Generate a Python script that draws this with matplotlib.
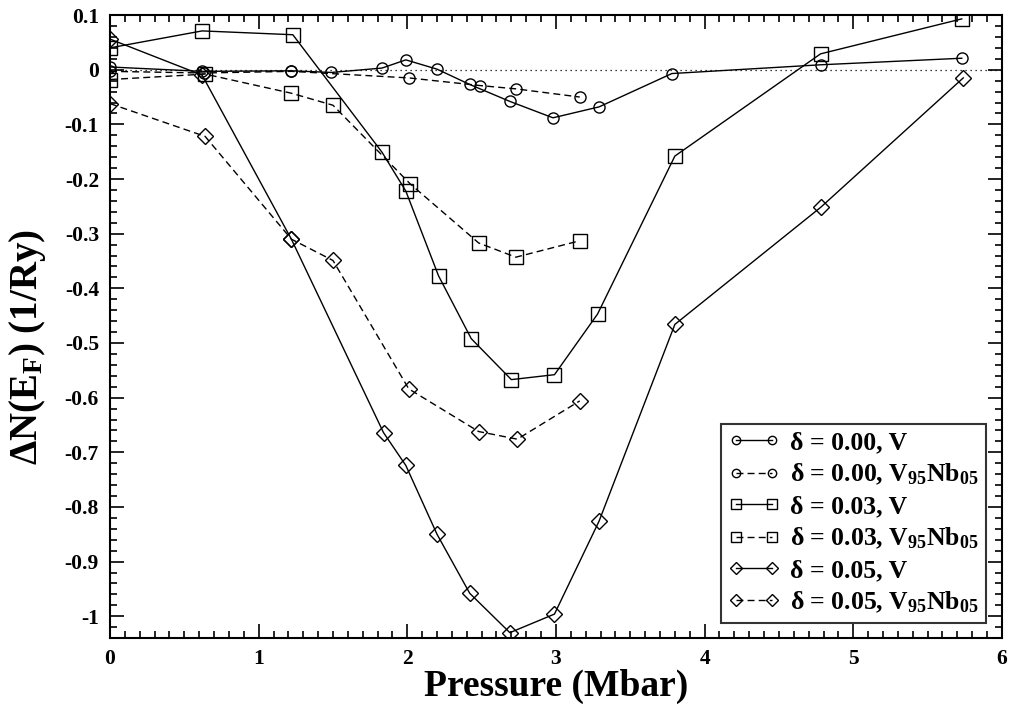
import matplotlib
matplotlib.use("Agg")
import matplotlib.pyplot as plt
from matplotlib.ticker import MultipleLocator, FixedLocator

plt.rcParams['font.family'] = ['Liberation Serif', 'DejaVu Serif']
plt.rcParams['font.weight'] = 'bold'
plt.rcParams['mathtext.fontset'] = 'custom'
plt.rcParams['mathtext.rm'] = 'Liberation Serif:bold'
plt.rcParams['mathtext.it'] = 'Liberation Serif:bold'
plt.rcParams['mathtext.bf'] = 'Liberation Serif:bold'

# delta = 0.00, V
p_c_v = [0.0, 0.62, 1.22, 1.49, 1.83, 1.99, 2.2, 2.42, 2.69, 2.98, 3.29, 3.78, 4.78, 5.73]
n_c_v = [0.005, -0.003, -0.002, -0.005, 0.003, 0.018, 0.001, -0.027, -0.058, -0.088, -0.068, -0.007, 0.009, 0.021]
# delta = 0.00, V95Nb05
p_c_nb = [0.0, 0.63, 1.22, 2.01, 2.49, 2.73, 3.16]
n_c_nb = [-0.003, -0.006, -0.003, -0.015, -0.029, -0.035, -0.05]
# delta = 0.03, V
p_s_v = [0.0, 0.62, 1.23, 1.83, 1.99, 2.21, 2.43, 2.7, 2.99, 3.28, 3.8, 4.78, 5.73]
n_s_v = [0.04, 0.071, 0.064, -0.151, -0.222, -0.377, -0.492, -0.567, -0.558, -0.447, -0.158, 0.029, 0.093]
# delta = 0.03, V95Nb05
p_s_nb = [0.0, 0.64, 1.22, 1.5, 2.02, 2.48, 2.73, 3.16]
n_s_nb = [-0.018, -0.008, -0.043, -0.065, -0.209, -0.317, -0.343, -0.313]
# delta = 0.05, V
p_d_v = [0.0, 0.62, 1.22, 1.84, 1.99, 2.2, 2.42, 2.69, 2.99, 3.29, 3.8, 4.78, 5.74]
n_d_v = [0.056, -0.01, -0.31, -0.664, -0.724, -0.85, -0.958, -1.03, -0.996, -0.826, -0.466, -0.252, -0.015]
# delta = 0.05, V95Nb05
p_d_nb = [0.0, 0.64, 1.22, 1.5, 2.01, 2.48, 2.74, 3.16]
n_d_nb = [-0.062, -0.122, -0.31, -0.349, -0.584, -0.662, -0.676, -0.606]

labels = [
    'δ = 0.00, V',
    'δ = 0.00, V$_{95}$Nb$_{05}$',
    'δ = 0.03, V',
    'δ = 0.03, V$_{95}$Nb$_{05}$',
    'δ = 0.05, V',
    'δ = 0.05, V$_{95}$Nb$_{05}$',
]

fig = plt.figure(figsize=(10.11, 7.17), dpi=100)
ax = fig.add_axes([0.1088, 0.110, 0.8822, 0.869])

# zero reference line
ax.axhline(0, color='black', lw=0.9, ls=(0, (1, 3)))

dash = (0, (5, 3))
kw = dict(color='black', mfc='none', mec='black', mew=1.0, lw=1.0)
ax.plot(p_c_v, n_c_v, marker='o', ms=8, ls='-', label=labels[0], **kw)
ax.plot(p_c_nb, n_c_nb, marker='o', ms=8, ls=dash, label=labels[1], **kw)
ax.plot(p_s_v, n_s_v, marker='s', ms=10, ls='-', label=labels[2], **kw)
ax.plot(p_s_nb, n_s_nb, marker='s', ms=10, ls=dash, label=labels[3], **kw)
ax.plot(p_d_v, n_d_v, marker='D', ms=8, ls='-', label=labels[4], **kw)
ax.plot(p_d_nb, n_d_nb, marker='D', ms=8, ls=dash, label=labels[5], **kw)

ax.set_xlim(0, 6)
ax.set_ylim(-1.04, 0.1)

ax.xaxis.set_major_locator(MultipleLocator(1))
ax.xaxis.set_minor_locator(MultipleLocator(0.1))
yt = [0.1, 0, -0.1, -0.2, -0.3, -0.4, -0.5, -0.6, -0.7, -0.8, -0.9, -1.0]
ax.yaxis.set_major_locator(FixedLocator(yt))
ax.set_yticklabels(['0.1', '0', '-0.1', '-0.2', '-0.3', '-0.4', '-0.5',
                    '-0.6', '-0.7', '-0.8', '-0.9', '-1'])
ax.yaxis.set_minor_locator(MultipleLocator(0.02))

ax.tick_params(which='both', direction='in', top=True, right=True, width=1.2)
ax.tick_params(which='major', length=10, labelsize=15.5, pad=8)
ax.tick_params(which='minor', length=5)
for s in ax.spines.values():
    s.set_linewidth(1.5)

ax.set_xlabel('Pressure (Mbar)', fontsize=27, fontweight='bold', labelpad=0)
ax.set_ylabel('ΔN(E$_{F}$) (1/Ry)', fontsize=28, fontweight='bold')
ax.yaxis.set_label_coords(-0.07, 0.467)

leg = ax.legend(loc='lower right', fontsize=18.5, numpoints=2, handlelength=2.0,
                markerscale=0.75, frameon=True, fancybox=False, edgecolor='black',
                borderaxespad=0.6, labelspacing=0.3, handletextpad=0.4,
                borderpad=0.3)
leg.get_frame().set_linewidth(1.5)

fig.savefig('out.png', dpi=100)
